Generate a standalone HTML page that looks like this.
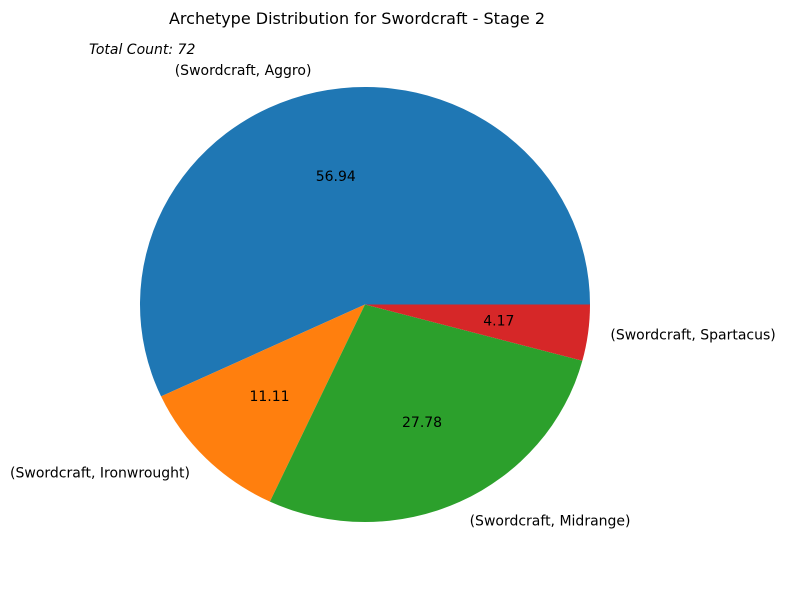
<!DOCTYPE html>
<html><head><meta charset="utf-8"><style>
body{margin:0;background:#fff;}
svg text{font-family:"DejaVu Sans","Liberation Sans",sans-serif;}
</style></head><body>
<svg id="chart" width="785" height="590" xmlns="http://www.w3.org/2000/svg">
<rect width="785" height="590" fill="#fff"/>
<text x="357" y="24" text-anchor="middle" font-size="16">Archetype Distribution for Swordcraft - Stage 2</text>
<text x="89" y="54" font-size="14" font-style="italic">Total Count: 72</text>
<g id="slices"></g>
</svg>
<script>
const categories = ["(Swordcraft, Aggro)", "(Swordcraft, Ironwrought)", "(Swordcraft, Midrange)", "(Swordcraft, Spartacus)"];
const counts = [41, 8, 20, 3];
const colors = ["#1f77b4", "#ff7f0e", "#2ca02c", "#d62728"];
const cx = 365, cy = 304.5, rx = 225, ry = 217.5;
const g = document.getElementById('slices');
const ns = 'http://www.w3.org/2000/svg';
const total = counts.reduce((a,b)=>a+b,0);
function pt(a, f){ return [cx + rx*f*Math.cos(a), cy - ry*f*Math.sin(a)]; }
let start = 0;
counts.forEach((c,i)=>{
  const sweep = c/total*2*Math.PI;
  const end = start + sweep;
  const p0 = pt(start,1), p1 = pt(end,1);
  const path = document.createElementNS(ns,'path');
  path.setAttribute('d', `M${cx},${cy} L${p0[0]},${p0[1]} A${rx},${ry} 0 ${sweep>Math.PI?1:0} 0 ${p1[0]},${p1[1]} Z`);
  path.setAttribute('fill', colors[i]);
  
  
  g.appendChild(path);
  const mid = start + sweep/2;
  const lp = pt(mid, 1.1);
  const lt = document.createElementNS(ns,'text');
  lt.setAttribute('x', lp[0]); lt.setAttribute('y', lp[1]);
  lt.setAttribute('font-size', '14');
  lt.setAttribute('dominant-baseline', 'central');
  lt.setAttribute('text-anchor', Math.cos(mid) >= 0 ? 'start' : 'end');
  lt.textContent = categories[i];
  
  
  g.appendChild(lt);
  const pp = pt(mid, 0.6);
  const pt2 = document.createElementNS(ns,'text');
  pt2.setAttribute('x', pp[0]); pt2.setAttribute('y', pp[1]);
  pt2.setAttribute('font-size', '14');
  pt2.setAttribute('dominant-baseline', 'central');
  pt2.setAttribute('text-anchor', 'middle');
  pt2.textContent = (c/total*100).toFixed(2);
  
  
  g.appendChild(pt2);
  start = end;
});
</script>
</body></html>
